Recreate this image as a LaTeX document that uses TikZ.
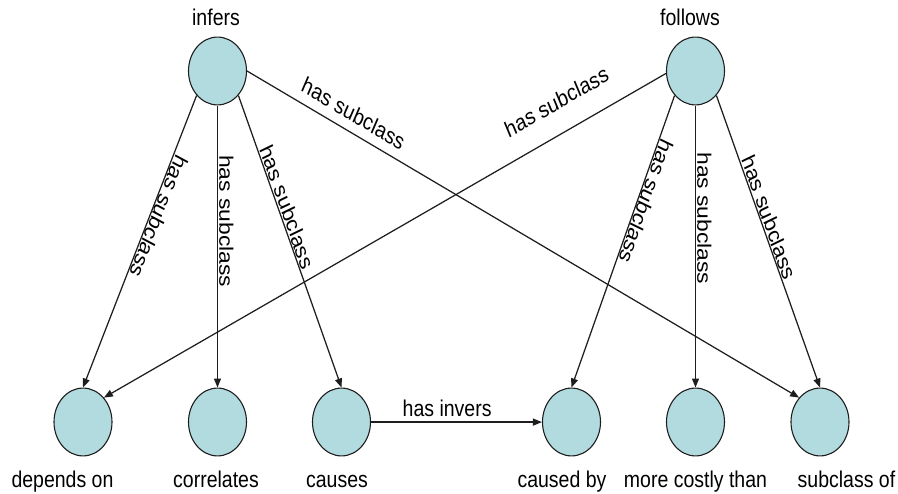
\documentclass[tikz,border=0pt]{standalone}
\usepackage{fontspec}
\setmainfont{Liberation Sans}
\usetikzlibrary{shapes.geometric,arrows.meta}
\definecolor{bubble}{RGB}{178,219,224}
\definecolor{ink}{RGB}{30,30,30}
\begin{document}
% the whole drawing is stretched vertically by 1.17, text included
\begin{tikzpicture}[x=1pt,y=-1pt,yscale=1.17,
  every node/.append style={transform shape},
  cls/.style={circle, draw=ink, line width=1.1pt, fill=bubble,
              minimum size=58pt, inner sep=0pt},
  clsname/.style={font=\fontsize{19.5}{22}\selectfont, inner sep=0pt, anchor=base},
  rel/.style={draw=ink, line width=1.25pt, -{Triangle[length=9pt,width=7pt]}},
  elab/.style={font=\fontsize{19.5}{22}\selectfont, anchor=south, inner sep=1pt},
]
\useasboundingbox (0,0) rectangle (898,422.22);

% classes
\node[cls] (inf) at (217.5,60.68) {};
\node[cls] (fol) at (695.5,60.68) {};
\node[cls] (dep) at (83,360.68) {};
\node[cls] (cor) at (217.5,360.68) {};
\node[cls] (cau) at (341.5,360.68) {};
\node[cls] (cby) at (571.5,360.68) {};
\node[cls] (mct) at (695.5,360.68) {};
\node[cls] (sub) at (820,360.68) {};

% class names
\node[clsname] (tinf) at (216,21.37) {infers};
\node[clsname] (tfol) at (690,21.37) {follows};
\node[clsname] (tdep) at (62.5,416.24) {depends on};
\node[clsname] (tcor) at (216,416.24) {correlates};
\node[clsname] (tcau) at (337,416.24) {causes};
\node[clsname] (tcby) at (562,416.24) {caused by};
\node[clsname] (tmct) at (695.5,416.24) {more costly than};
\node[clsname] (tsub) at (846.5,416.24) {subclass of};

% subclass relations
\draw[rel] (inf.225) -- node[elab, pos=0.40, rotate=-114.5] {has subclass} (dep.north);
\draw[rel] (inf.south) -- node[elab, pos=0.41, rotate=-90] {has subclass} (cor.north);
\draw[rel] (inf.315) -- node[elab, pos=0.395, rotate=-67.6] {has subclass} (cau.north);
\draw[rel] (inf.east) -- node[elab, pos=0.18, rotate=-26.8, yshift=7pt] {has subclass} (sub.135);
\draw[rel] (fol.184) -- node[elab, pos=0.174, rotate=26.2, yshift=18pt] {has subclass} (dep.45);
\draw[rel] (fol.225) -- node[elab, pos=0.35, rotate=-112.5] {has subclass} (cby.north);
\draw[rel] (fol.south) -- node[elab, pos=0.40, rotate=-90] {has subclass} (mct.north);
\draw[rel] (fol.315) -- node[elab, pos=0.43, rotate=-67.5] {has subclass} (sub.north);

% inverse relation
\draw[rel] (cau.east) -- node[elab, pos=0.445, inner sep=4pt] {has invers} (cby.west);
\end{tikzpicture}
\end{document}
